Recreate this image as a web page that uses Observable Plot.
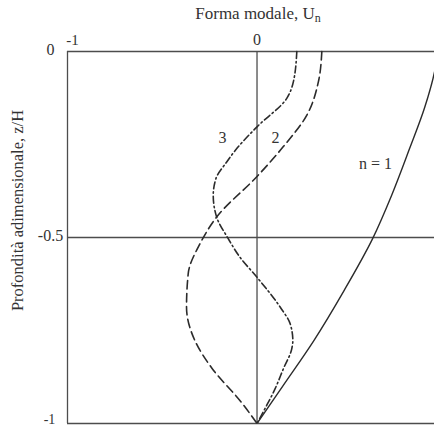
<!DOCTYPE html>
<html>
<head>
<meta charset="utf-8">
<script src="https://cdn.jsdelivr.net/npm/d3@7"></script>
<script src="https://cdn.jsdelivr.net/npm/@observablehq/plot@0.6"></script>
<style>
  html, body { margin: 0; padding: 0; background: #fff; overflow: hidden; }
  #wrap { position: relative; width: 434px; height: 427px; }
  #title {
    position: absolute; left: 158px; width: 200px; top: 4px;
    text-align: center; font-family: "Liberation Serif", serif;
    font-size: 17px; line-height: 20px; color: #333;
  }
  #title sub { font-size: 12px; vertical-align: -3px; line-height: 0; }
</style>
</head>
<body>
<div id="wrap">
  <div id="title">Forma modale, U<sub>n</sub></div>
</div>
<script>
// Dimensionless depth z/H (0 = surface, -1 = base) and modal shape U for each mode
const depth1 = [0, -0.054, -0.15, -0.261, -0.387, -0.503, -0.642, -0.777, -0.9, -1];
const mode1  = [0.955, 0.937, 0.885, 0.805, 0.71, 0.61, 0.46, 0.30, 0.135, 0];

const depth2 = [0, -0.081, -0.171, -0.255, -0.336, -0.445, -0.516, -0.597, -0.687, -0.777, -0.852, -0.944, -1];
const mode2  = [0.342, 0.324, 0.263, 0.14, 0, -0.213, -0.30, -0.363, -0.372, -0.328, -0.237, -0.081, 0];

const depth3 = [0, -0.081, -0.126, -0.2025, -0.261, -0.297, -0.342, -0.387, -0.445, -0.503, -0.553, -0.607, -0.687, -0.732, -0.777, -0.8, -0.853, -0.907, -0.96, -1];
const mode3  = [0.21, 0.192, 0.157, 0, -0.107, -0.16, -0.217, -0.231, -0.213, -0.152, -0.09, 0, 0.122, 0.175, 0.189, 0.183, 0.139, 0.095, 0.042, 0];

const gridY = [0, -0.5, -1];
const gridX = [-1, 0];

const modeLabels = ["3", "2", "n = 1"];
const modeLabelU = [-0.182, 0.098, 0.625];
const modeLabelZ = [-0.231, -0.231, -0.301];

const toRows = (zs, us) => zs.map((z, i) => ({z, u: us[i]}));
const labelRows = modeLabels.map((t, i) => ({t, u: modeLabelU[i], z: modeLabelZ[i]}));

const ink = "#2b2b2b";
const gridInk = "#4d4d4d";
const fmt = d => String(d);

const chart = Plot.plot({
  width: 434,
  height: 427,
  marginLeft: 67,
  marginRight: 0,
  marginTop: 51,
  marginBottom: 4,
  style: {fontFamily: "'Liberation Serif', serif", fontSize: "16px", color: "#333", background: "#fff"},
  x: {domain: [-1, 0.9365]},
  y: {domain: [-1, 0]},
  marks: [
    Plot.ruleY(gridY, {stroke: gridInk, strokeWidth: 1.3}),
    Plot.ruleX(gridX, {stroke: gridInk, strokeWidth: 1.3}),
    Plot.line(toRows(depth1, mode1), {x: "u", y: "z", curve: "monotone-y", stroke: ink, strokeWidth: 1.4, clip: true}),
    Plot.line(toRows(depth2, mode2), {x: "u", y: "z", curve: "monotone-y", stroke: ink, strokeWidth: 1.6, strokeDasharray: "8.5,4.5"}),
    Plot.line(toRows(depth3, mode3), {x: "u", y: "z", curve: "monotone-y", stroke: ink, strokeWidth: 1.6, strokeDasharray: "7,3,1.5,3"}),
    Plot.text(labelRows, {x: "u", y: "z", text: "t", fontSize: 16, fill: "#333"}),
    Plot.axisX([-1], {anchor: "top", tickSize: 0, tickPadding: 7, dx: 5, label: null, tickFormat: fmt, fontSize: 15}),
    Plot.axisX([0], {anchor: "top", tickSize: 0, tickPadding: 7, label: null, tickFormat: fmt, fontSize: 16}),
    Plot.axisY([0, -0.5], {anchor: "left", tickSize: 0, tickPadding: 17, dy: -2, textAnchor: "middle", label: null, tickFormat: fmt, fontSize: 16}),
    Plot.axisY([-1], {anchor: "left", tickSize: 0, tickPadding: 18, dy: -4, textAnchor: "middle", label: null, tickFormat: fmt, fontSize: 14}),
    Plot.text(["Profondità adimensionale, z/H"], {frameAnchor: "left", textAnchor: "middle", rotate: -90, dx: -50, dy: -27, fontSize: 16.5, fill: "#333"})
  ]
});

document.getElementById("wrap").prepend(chart);
</script>
</body>
</html>
